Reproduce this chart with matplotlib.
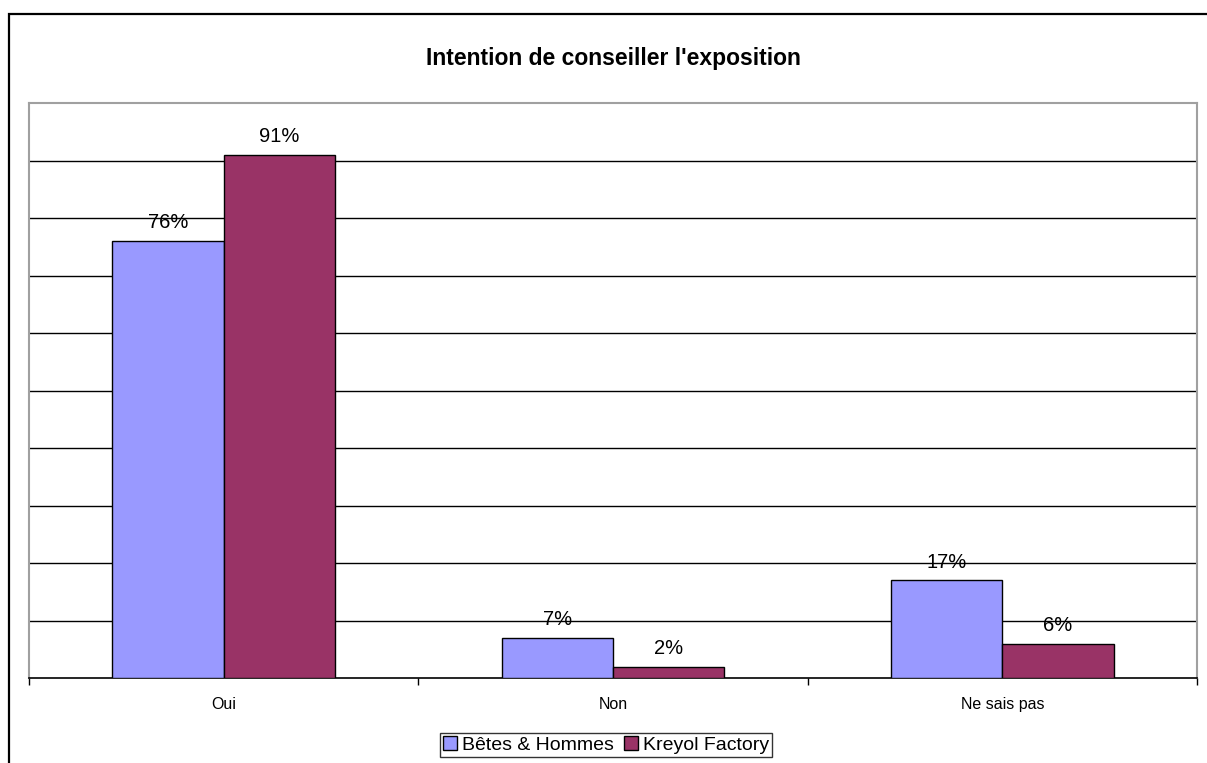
import numpy as np
import matplotlib.pyplot as plt
from matplotlib.patches import Rectangle

plt.rcParams['font.family'] = ['Liberation Sans', 'DejaVu Sans']

categories = ['Oui', 'Non', 'Ne sais pas']
series_names = ['Bêtes & Hommes', 'Kreyol Factory']
betes = [76, 7, 17]
kreyol = [91, 2, 6]
colors = ['#9999FF', '#993366']

fig = plt.figure(figsize=(12.07, 7.63), dpi=100)
ax = fig.add_axes([29 / 1207, 85 / 763, 1168 / 1207, 575 / 763])

x = np.arange(len(categories))
w = 1 / 3.5
b1 = ax.bar(x - w / 2, betes, w, color=colors[0], edgecolor='black', linewidth=1, label=series_names[0], zorder=3)
b2 = ax.bar(x + w / 2, kreyol, w, color=colors[1], edgecolor='black', linewidth=1, label=series_names[1], zorder=3)

for bars, vals in [(b1, betes), (b2, kreyol)]:
    for bar, v in zip(bars, vals):
        ax.text(bar.get_x() + bar.get_width() / 2, v + 1.5, f'{v}%',
                ha='center', va='bottom', fontsize=14.5, zorder=4)

ax.set_xlim(-0.5, 2.5)
ax.set_ylim(0, 100)
ax.set_yticks(np.arange(10, 100, 10))
ax.yaxis.grid(True, color='black', linewidth=1)
ax.set_yticklabels([])
ax.tick_params(axis='y', length=0)

ax.set_xticks(x)
ax.set_xticklabels(categories, fontsize=11.5)
ax.set_xticks(np.arange(-0.5, 3, 1), minor=True)
ax.tick_params(axis='x', which='major', length=0, pad=13.5)
ax.tick_params(axis='x', which='minor', length=5, width=1, color='black')

for side in ['left', 'right', 'top']:
    ax.spines[side].set_color('#a0a0a0')
    ax.spines[side].set_linewidth(1.5)
ax.spines['bottom'].set_color('black')
ax.spines['bottom'].set_linewidth(1.2)

ax.set_title("Intention de conseiller l'exposition", fontsize=16.5, fontweight='bold', y=1.0, pad=27)

leg = fig.legend(loc='center', bbox_to_anchor=(606 / 1207, 1 - 745 / 763), ncol=2,
                 fontsize=14, frameon=True, fancybox=False, edgecolor='black',
                 handlelength=0.75, handleheight=0.75, handletextpad=0.25, columnspacing=0.5,
                 borderpad=0.15, borderaxespad=0)
leg.get_frame().set_linewidth(1)

fig.patches.append(Rectangle((9 / 1207, -0.1), 1.2, 1 - 14 / 763 + 0.1, transform=fig.transFigure,
                             fill=False, edgecolor='black', linewidth=1.6, zorder=0))

fig.savefig('out.png', dpi=100)
